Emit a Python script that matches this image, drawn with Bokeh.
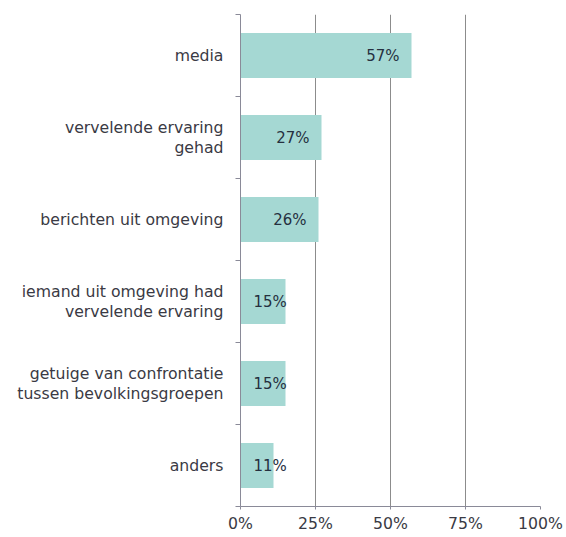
from bokeh.plotting import figure
from bokeh.models import ColumnDataSource, FixedTicker, PrintfTickFormatter, Range1d
from bokeh.embed import file_html
from bokeh.resources import INLINE
import numpy as np

# --- data ---
categories = [
    "media",
    "vervelende ervaring\ngehad",
    "berichten uit omgeving",
    "iemand uit omgeving had\nvervelende ervaring",
    "getuige van confrontatie\ntussen bevolkingsgroepen",
    "anders",
]
values = [57, 27, 26, 15, 15, 11]
value_labels = ["57%", "27%", "26%", "15%", "15%", "11%"]
x_ticks = [0, 25, 50, 75, 100]

FONT = "DejaVu Sans"
n = len(categories)
y_pos = list(np.arange(n)[::-1] + 0.5)
big = [v >= 20 for v in values]

src = ColumnDataSource(dict(
    y=y_pos,
    v=values,
    lbl=value_labels,
    lx=[v if b else 0 for v, b in zip(values, big)],
    xoff=[-12 if b else 13 for b in big],
    align=["right" if b else "left" for b in big],
))

p = figure(width=566, height=537, output_backend="svg", toolbar_location=None,
           x_range=Range1d(0, 100), y_range=Range1d(0, n),
           min_border_left=240, min_border_right=26, min_border_top=14,
           min_border_bottom=31)
p.outline_line_color = None
p.background_fill_color = "white"

p.hbar(y="y", left=0, right="v", height=0.55, source=src,
       fill_color="#a5d8d3", line_color=None)
p.text(x="lx", y="y", text="lbl", source=src, x_offset="xoff",
       text_align="align", text_baseline="middle",
       text_font_size="15px", text_color="#25303f",
       text_font={"value": FONT})

# x axis
p.xaxis.ticker = FixedTicker(ticks=x_ticks)
p.xaxis.formatter = PrintfTickFormatter(format="%d%%")
p.xaxis.axis_line_color = "#8a8a98"
p.xaxis.major_tick_line_color = "#8a8a98"
p.xaxis.major_tick_out = 3
p.xaxis.major_tick_in = 0
p.xaxis.minor_tick_line_color = None
p.xaxis.major_label_standoff = 4
p.xaxis.major_label_text_font = FONT
p.xaxis.major_label_text_font_size = "15.7px"
p.xaxis.major_label_text_color = "#3a3a44"

# y axis
p.yaxis.ticker = FixedTicker(ticks=y_pos, minor_ticks=list(range(n + 1)))
p.yaxis.major_label_overrides = {float(y): c for y, c in zip(y_pos, categories)}
p.yaxis.axis_line_color = "#8a8a98"
p.yaxis.major_tick_line_color = None
p.yaxis.major_tick_out = 0
p.yaxis.major_tick_in = 0
p.yaxis.minor_tick_line_color = "#8a8a98"
p.yaxis.minor_tick_out = 5
p.yaxis.minor_tick_in = 0
p.yaxis.major_label_standoff = 12
p.yaxis.major_label_text_font = FONT
p.yaxis.major_label_text_font_size = "15.7px"
p.yaxis.major_label_text_color = "#3a3a44"
p.yaxis.major_label_text_line_height = 1.05

p.xgrid.ticker = FixedTicker(ticks=x_ticks[1:])
p.xgrid.grid_line_color = "#8c8c8c"
p.ygrid.grid_line_color = None

open("out.html", "w").write(file_html(p, INLINE))
